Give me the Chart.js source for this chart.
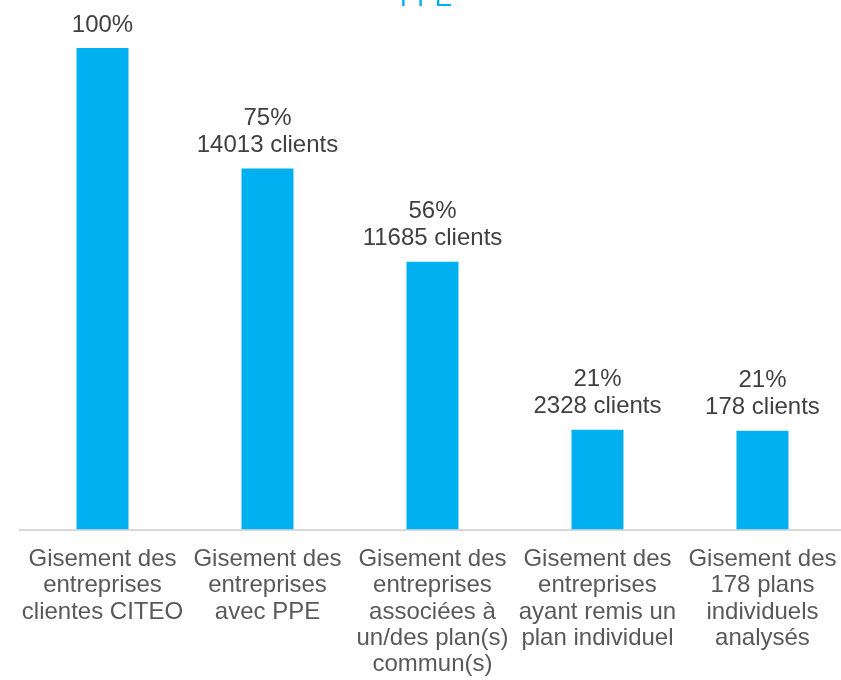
<!DOCTYPE html>
<html>
<head>
<meta charset="utf-8">
<script src="https://cdn.jsdelivr.net/npm/chart.js@4"></script>
<style>
  html, body { margin: 0; padding: 0; background: #fff; overflow: hidden; width: 841px; height: 680px; }
  #wrap { width: 845px; height: 680px; }
</style>
</head>
<body>
<div id="wrap"><canvas id="gisement" width="845" height="680"></canvas></div>
<script>
var categories = [
    ["Gisement des", "entreprises", "clientes CITEO"],
    ["Gisement des", "entreprises", "avec PPE"],
    ["Gisement des", "entreprises", "associées à", "un/des plan(s)", "commun(s)"],
    ["Gisement des", "entreprises", "ayant remis un", "plan individuel"],
    ["Gisement des", "178 plans", "individuels", "analysés"]
];
var values = [100, 75, 55.6, 20.7, 20.5];
var pctLabels = ["100%", "75%", "56%", "21%", "21%"];
var clientLabels = ["", "14013 clients", "11685 clients", "2328 clients", "178 clients"];
var titleText = "PPE";

// labels au-dessus des barres
var barLabels = {
    id: 'barLabels',
    afterDatasetsDraw: function (chart) {
        var ctx = chart.ctx;
        var meta = chart.getDatasetMeta(0);
        ctx.save();
        ctx.font = '24px "Liberation Sans", Arial, sans-serif';
        ctx.fillStyle = '#404040';
        ctx.textAlign = 'center';
        ctx.textBaseline = 'bottom';
        meta.data.forEach(function (bar, i) {
            var y = bar.y - 11;
            if (clientLabels[i]) {
                ctx.fillText(clientLabels[i], bar.x, y);
                y -= 27;
            }
            ctx.fillText(pctLabels[i], bar.x, y);
        });
        // titre (coupé en haut)
        ctx.font = '26px "Liberation Sans", Arial, sans-serif';
        ctx.fillStyle = '#00B0F0';
        ctx.textBaseline = 'alphabetic';
        ctx.fillText(titleText, 426, 6);
        ctx.restore();
    }
};

var ctx = document.getElementById("gisement").getContext('2d');
var chart = new Chart(ctx, {
    type: 'bar',
    data: {
        labels: categories,
        datasets: [{
            data: values,
            backgroundColor: '#00B0F0',
            borderWidth: 0,
            barPercentage: 0.315,
            categoryPercentage: 1
        }]
    },
    options: {
        responsive: false,
        animation: false,
        layout: { padding: { top: 48, left: 20, right: 0, bottom: -6.5 } },
        plugins: {
            legend: { display: false },
            tooltip: { enabled: false }
        },
        scales: {
            x: {
                grid: { display: false },
                border: { display: true, color: '#d9d9d9', width: 2 },
                ticks: {
                    color: '#595959',
                    font: { family: '"Liberation Sans", Arial, sans-serif', size: 24, lineHeight: 1.1 },
                    padding: 8.5,
                    maxRotation: 0,
                    autoSkip: false
                }
            },
            y: {
                display: false,
                min: 0,
                max: 100
            }
        }
    },
    plugins: [barLabels]
});
</script>
</body>
</html>
